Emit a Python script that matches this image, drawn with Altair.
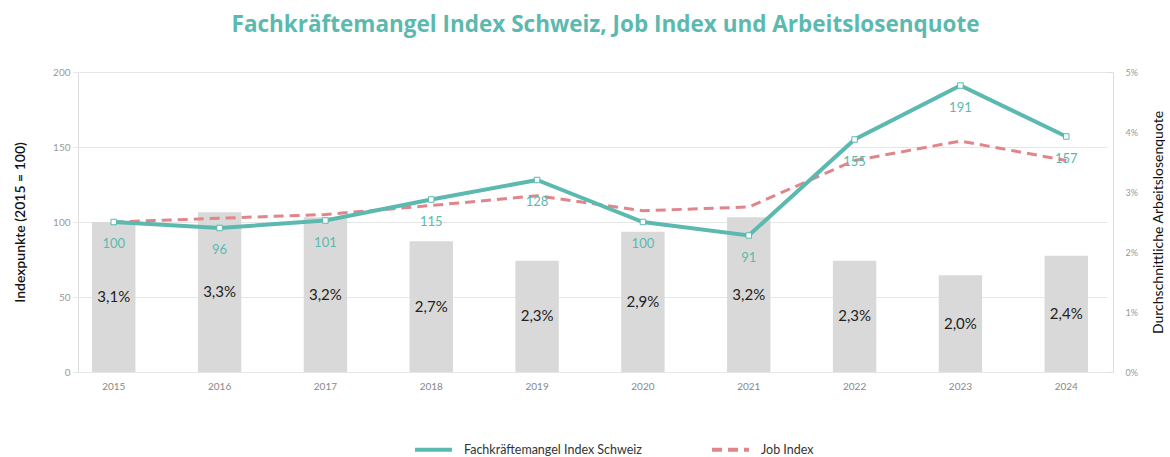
import altair as alt
import pandas as pd

years = ["2015", "2016", "2017", "2018", "2019", "2020", "2021", "2022", "2023", "2024"]
fkm_index = [100, 96, 101, 115, 128, 100, 91, 155, 191, 157]
job_index = [100, 102.5, 105, 111, 117.5, 107.5, 110, 141, 154, 141]
unemployment = [3.1, 3.3, 3.2, 2.7, 2.3, 2.9, 3.2, 2.3, 2.0, 2.4]

S1 = "Fachkräftemangel Index Schweiz"
S2 = "Job Index"
TEAL = "#5bb9af"
RED = "#e0868b"
FONT = "Lato"

bars_df = pd.DataFrame({
    "year": years,
    "rate": unemployment,
    "label": [f"{v:.1f}".replace(".", ",") + "%" for v in unemployment],
})
lines_df = pd.DataFrame({
    "year": years * 2,
    "series": [S1] * len(years) + [S2] * len(years),
    "value": fkm_index + job_index,
})

x_enc = alt.X("year:O", title=None,
              scale=alt.Scale(paddingInner=0.59, paddingOuter=0.18, range=[-5, 1029]),
              axis=alt.Axis(labelAngle=0, ticks=False, domain=False, grid=False,
                            labelFontSize=10, labelColor="#888", labelPadding=9,
                            labelFont=FONT))

rate_scale = alt.Scale(domain=[0, 6.2], nice=False, zero=True)
right_axis = alt.Axis(orient="right", title="Durchschnittliche Arbeitslosenquote",
                      values=[0, 1.24, 2.48, 3.72, 4.96, 6.2],
                      labelExpr="format(datum.value / 1.24, '.0f') + '%'",
                      grid=False, ticks=False, domain=False,
                      labelFontSize=9, labelColor="#999", labelPadding=12,
                      titleFontSize=14, titleFontWeight="normal", titleColor="#111",
                      titlePadding=28, titleFont=FONT, labelFont=FONT, titleAngle=270)

bars = alt.Chart(bars_df).mark_bar(color="#d9d9d9").encode(
    x=x_enc,
    y=alt.Y("rate:Q", scale=rate_scale, axis=right_axis),
)
bar_text = alt.Chart(bars_df).transform_calculate(mid="datum.rate / 2").mark_text(
    fontSize=15, color="#222", font=FONT, baseline="middle"
).encode(
    x=alt.X("year:O"),
    y=alt.Y("mid:Q", scale=rate_scale, axis=right_axis),
    text="label:N",
)
bar_layer = alt.layer(bars, bar_text)

idx_scale = alt.Scale(domain=[0, 200], nice=False)
left_axis = alt.Axis(orient="left", title="Indexpunkte (2015 = 100)",
                     values=[0, 50, 100, 150, 200], grid=True, gridColor="#e6e6e6",
                     ticks=False, domain=False, labelFontSize=10, labelColor="#999",
                     labelPadding=8, titleFontSize=14, titleFontWeight=600,
                     titleColor="#111", titlePadding=25, titleFont=FONT, labelFont=FONT)

legend_kw = dict(orient="none", direction="horizontal", legendX=335, legendY=357,
                 symbolType="stroke", symbolSize=1369, symbolStrokeWidth=4,
                 labelFontSize=12.5, labelColor="#333", labelFont=FONT,
                 labelLimit=400, columnPadding=62, labelOffset=10)

color_enc = alt.Color("series:N", title=None,
                      scale=alt.Scale(domain=[S1, S2], range=[TEAL, RED]),
                      legend=alt.Legend(**legend_kw))
dash_enc = alt.StrokeDash("series:N", title=None,
                          scale=alt.Scale(domain=[S1, S2], range=[[1, 0], [10, 6]]),
                          legend=alt.Legend(**legend_kw))

base_lines = alt.Chart(lines_df)
lines = base_lines.mark_line(strokeWidth=4, opacity=0).encode(
    x=alt.X("year:O"),
    y=alt.Y("value:Q", scale=idx_scale, axis=left_axis),
    color=color_enc,
    strokeDash=dash_enc,
)
job_line = base_lines.transform_filter(alt.datum.series == S2).mark_line(
    strokeWidth=3, color=RED, strokeDash=[10, 6]
).encode(x=alt.X("year:O"), y=alt.Y("value:Q", scale=idx_scale, axis=left_axis))
fkm_line = base_lines.transform_filter(alt.datum.series == S1).mark_line(
    strokeWidth=4, color=TEAL
).encode(x=alt.X("year:O"), y=alt.Y("value:Q", scale=idx_scale, axis=left_axis))
points = base_lines.transform_filter(alt.datum.series == S1).mark_point(
    shape="square", filled=True, fill="white", stroke=TEAL, strokeWidth=1, size=30, opacity=1
).encode(x=alt.X("year:O"), y=alt.Y("value:Q", scale=idx_scale, axis=left_axis))
labels = base_lines.transform_filter(alt.datum.series == S1).mark_text(
    dy=22, fontSize=13, color=TEAL, font=FONT, baseline="middle"
).encode(x=alt.X("year:O"), y=alt.Y("value:Q", scale=idx_scale, axis=left_axis),
         text="value:Q")

line_layer = alt.layer(lines, job_line, fkm_line, points, labels)

chart = alt.layer(bar_layer, line_layer).resolve_scale(y="independent").properties(
    width=1035, height=300,
    title=alt.TitleParams("Fachkräftemangel Index Schweiz, Job Index und Arbeitslosenquote",
                          fontSize=22.5, fontWeight="bold", color=TEAL, font="Open Sans",
                          anchor="middle", offset=31, dx=10),
    autosize=alt.AutoSizeParams(type="none"),
    padding={"left": 78, "top": 72, "right": 57, "bottom": 85},
).configure_view(stroke=None).configure(background="white")

chart.save("out.html", embed_options={"renderer": "svg", "actions": False})
